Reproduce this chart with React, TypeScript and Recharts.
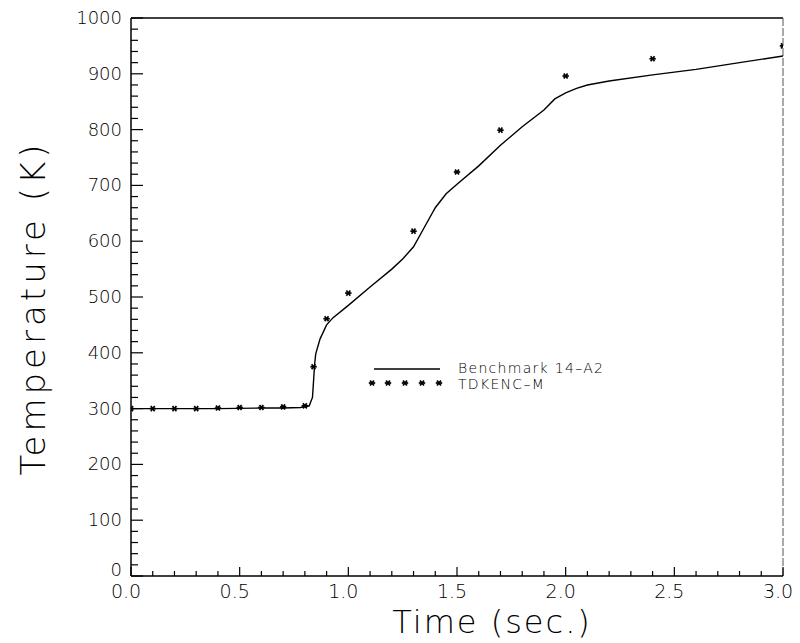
import { LineChart, Line, XAxis, YAxis, ReferenceLine } from "recharts";

// Benchmark 14-A2 curve (solid)
const benchTime = [0, 0.2, 0.4, 0.6, 0.7, 0.78, 0.82, 0.835, 0.84, 0.845, 0.85, 0.87, 0.9, 0.93, 1.0, 1.1, 1.2, 1.25, 1.3, 1.35, 1.4, 1.45, 1.5, 1.6, 1.7, 1.8, 1.9, 1.95, 2.0, 2.05, 2.1, 2.2, 2.4, 2.6, 2.8, 3.0];
const benchTemp = [300, 300, 300, 301, 301, 302, 305, 320, 350, 380, 398, 425, 450, 463, 485, 518, 550, 568, 590, 625, 660, 685, 702, 735, 772, 805, 835, 855, 866, 874, 880, 887, 898, 908, 920, 932];

// TDKENC-M points (star markers)
const tdkTime = [0, 0.1, 0.2, 0.3, 0.4, 0.5, 0.6, 0.7, 0.8, 0.84, 0.9, 1.0, 1.3, 1.5, 1.7, 2.0, 2.4, 3.0];
const tdkTemp = [300, 300, 300, 300, 301, 302, 302, 303, 305, 375, 461, 507, 618, 724, 799, 896, 927, 950];

const yTicks = Array.from({ length: 51 }, (_, i) => i * 20);
const xTicks = Array.from({ length: 31 }, (_, i) => i / 10);

const FONT = "'DejaVu Sans', sans-serif";

const bench = benchTime.map((t, i) => ({ t, v: benchTemp[i] }));
const tdk = tdkTime.map((t, i) => ({ t, v: tdkTemp[i] }));

function YTick({ x, y, payload }: any) {
  const v = payload.value;
  const major = v % 100 === 0;
  return (
    <g>
      <line x1={x} x2={x + (major ? 12 : 7)} y1={y} y2={y} stroke="#000" strokeWidth={1.2} />
      {major && (
        <text x={x - 9} y={y} dy={v === 0 ? 0 : 6} textAnchor="end" fontFamily={FONT} fontWeight={200} fontSize={18} fill="#000">
          {v}
        </text>
      )}
    </g>
  );
}

function XTick({ x, y, payload }: any) {
  const v = Math.round(payload.value * 10);
  const major = v % 5 === 0;
  return (
    <g>
      <line x1={x} x2={x} y1={y} y2={y - (major ? 9 : 5)} stroke="#000" strokeWidth={1.2} />
      {major && (
        <text x={x - 5} y={y} dy={22} textAnchor="middle" fontFamily={FONT} fontWeight={200} fontSize={19} fill="#000">
          {(v / 10).toFixed(1)}
        </text>
      )}
    </g>
  );
}

function Star({ cx, cy }: any) {
  if (cx == null || cy == null) return null;
  const r = 3.2;
  return (
    <g stroke="#000" strokeWidth={1.7}>
      <line x1={cx - r} x2={cx + r} y1={cy} y2={cy} />
      <line x1={cx - r * 0.6} x2={cx + r * 0.6} y1={cy - r * 0.8} y2={cy + r * 0.8} />
      <line x1={cx - r * 0.6} x2={cx + r * 0.6} y1={cy + r * 0.8} y2={cy - r * 0.8} />
    </g>
  );
}

function LegendBox() {
  return (
    <svg width={340} height={40} style={{ position: "absolute", left: 368, top: 358, overflow: "visible" }}>
      <line x1={6} x2={72} y1={11} y2={11} stroke="#000" strokeWidth={1.4} />
      {[4, 20, 37, 54, 71].map((px) => (
        <Star key={px} cx={px} cy={25} />
      ))}
      <text x={90} y={15} fontFamily={FONT} fontWeight={200} fontSize={14} letterSpacing={1.3} fill="#000">
        Benchmark  14–A2
      </text>
      <text x={90} y={31} fontFamily={FONT} fontWeight={200} fontSize={14} letterSpacing={1.3} fill="#000">
        TDKENC–M
      </text>
    </svg>
  );
}

export default function App() {
  return (
    <div style={{ position: "absolute", left: 0, top: 0, width: 800, height: 643, background: "#fff" }}>
      <LineChart width={800} height={643} margin={{ top: 18, right: 17, left: 71, bottom: 27 }}>
        <XAxis
          type="number"
          dataKey="t"
          domain={[0, 3]}
          ticks={xTicks}
          interval={0}
          height={40}
          tickSize={0}
          tickMargin={0}
          tickLine={false}
          tick={<XTick />}
          axisLine={{ stroke: "#000", strokeWidth: 1.5 }}
          allowDataOverflow
        />
        <YAxis
          type="number"
          domain={[0, 1000]}
          ticks={yTicks}
          interval={0}
          width={60}
          tickSize={0}
          tickMargin={0}
          tickLine={false}
          tick={<YTick />}
          axisLine={{ stroke: "#000", strokeWidth: 1.5 }}
        />
        <ReferenceLine y={1000} stroke="#000" strokeWidth={1.5} />
        <ReferenceLine x={3} stroke="#555" strokeWidth={1} strokeDasharray="8 2" />
        <Line
          data={bench}
          dataKey="v"
          type="linear"
          stroke="#000"
          strokeWidth={1.4}
          dot={false}
          isAnimationActive={false}
          name="Benchmark 14-A2"
        />
        <Line
          data={tdk}
          dataKey="v"
          stroke="none"
          dot={<Star />}
          activeDot={false}
          isAnimationActive={false}
          name="TDKENC-M"
        />
      </LineChart>
      <LegendBox />
      <div
        style={{
          position: "absolute",
          left: 33,
          top: 308,
          transform: "translate(-50%, -50%) rotate(-90deg)",
          whiteSpace: "nowrap",
          fontFamily: FONT,
          fontWeight: 200,
          fontSize: 34,
          letterSpacing: 4,
        }}
      >
        Temperature (K)
      </div>
      <div
        style={{
          position: "absolute",
          left: 492,
          top: 622,
          transform: "translate(-50%, -50%)",
          whiteSpace: "nowrap",
          fontFamily: FONT,
          fontWeight: 200,
          fontSize: 32,
          letterSpacing: 2,
        }}
      >
        Time (sec.)
      </div>
    </div>
  );
}
